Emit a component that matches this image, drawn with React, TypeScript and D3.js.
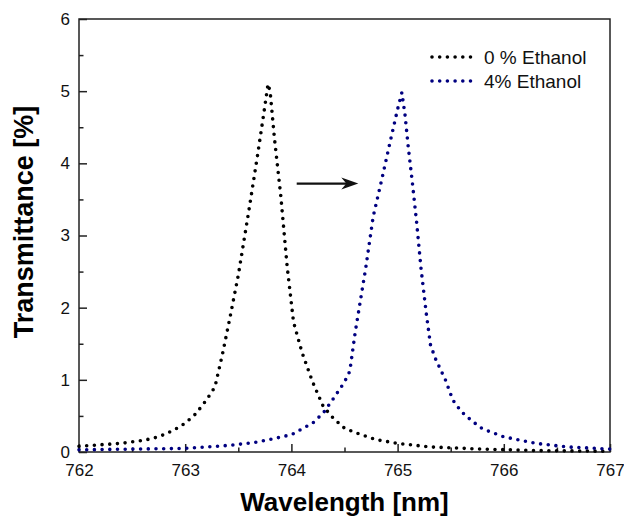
import React, { useEffect, useRef } from 'react';
import * as d3 from 'd3';

// 0 % ethanol spectrum (black)
const waveBlack = [762.0, 762.2, 762.4, 762.6, 762.7, 762.8, 762.9, 763.0, 763.1, 763.2, 763.28, 763.35, 763.42, 763.5, 763.6, 763.68, 763.74, 763.78, 763.8, 763.84, 763.9, 763.96, 764.02, 764.1, 764.2, 764.3, 764.4, 764.5, 764.6, 764.7, 764.8, 765.0, 765.3, 765.8, 766.3, 767.0];
const transBlack = [0.08, 0.1, 0.12, 0.16, 0.19, 0.24, 0.31, 0.4, 0.53, 0.72, 0.9, 1.35, 1.85, 2.45, 3.35, 4.1, 4.69, 5.1, 4.99, 4.35, 3.55, 2.57, 1.8, 1.38, 0.97, 0.63, 0.46, 0.33, 0.27, 0.22, 0.17, 0.12, 0.07, 0.04, 0.02, 0.01];

// 4 % ethanol spectrum (blue)
const waveBlue = [762.0, 762.5, 763.0, 763.4, 763.65, 763.85, 764.0, 764.1, 764.2, 764.3, 764.4, 764.5, 764.55, 764.6, 764.65, 764.7, 764.77, 764.85, 764.93, 765.0, 765.04, 765.07, 765.1, 765.14, 765.18, 765.22, 765.27, 765.31, 765.36, 765.45, 765.52, 765.6, 765.7, 765.8, 766.0, 766.3, 766.6, 767.0];
const transBlue = [0.03, 0.04, 0.05, 0.09, 0.13, 0.19, 0.24, 0.32, 0.4, 0.54, 0.75, 0.97, 1.12, 1.65, 2.1, 2.55, 3.26, 3.77, 4.3, 4.75, 4.98, 4.67, 4.23, 3.72, 3.17, 2.55, 1.92, 1.48, 1.28, 1.0, 0.72, 0.56, 0.43, 0.32, 0.21, 0.12, 0.07, 0.04];

const xTicks = [762, 763, 764, 765, 766, 767];
const xMinor = [762.5, 763.5, 764.5, 765.5, 766.5];
const yTicks = [0, 1, 2, 3, 4, 5, 6];
const yMinor = [0.5, 1.5, 2.5, 3.5, 4.5, 5.5];

const seriesNames = ['0 % Ethanol', '4% Ethanol'];
const seriesColors = ['#000000', '#000080'];

// arrow annotation (data coords)
const arrowFrom = [764.05, 3.72];
const arrowTo = [764.63, 3.72];

const width = 624, height = 517;
const margin = { left: 79, right: 14, top: 19, bottom: 65 };
const font = 'Liberation Sans, Arial, sans-serif';

export default function App() {
  const ref = useRef<SVGSVGElement>(null);

  useEffect(() => {
    const svg = d3.select(ref.current);
    svg.selectAll('*').remove();

    const x = d3.scaleLinear().domain([762, 767]).range([margin.left, width - margin.right]);
    const y = d3.scaleLinear().domain([0, 6]).range([height - margin.bottom, margin.top]);
    const bottom = height - margin.bottom;

    const styleAxis = (g) => {
      g.select('.domain').remove();
      g.selectAll('line').attr('stroke', '#222').attr('stroke-width', 1.5);
      g.selectAll('text').attr('font-family', font).attr('font-size', 17).attr('fill', '#111');
    };

    svg.append('g').attr('transform', `translate(0,${bottom})`)
      .call(d3.axisBottom(x).tickValues(xTicks).tickSize(-8).tickPadding(12).tickFormat(d3.format('d')))
      .call(styleAxis);
    svg.append('g').attr('transform', `translate(0,${bottom})`)
      .call(d3.axisBottom(x).tickValues(xMinor).tickSize(-4.5).tickFormat(() => ''))
      .call(styleAxis);
    svg.append('g').attr('transform', `translate(${margin.left},0)`)
      .call(d3.axisLeft(y).tickValues(yTicks).tickSize(-8).tickPadding(9).tickFormat(d3.format('d')))
      .call(styleAxis);
    svg.append('g').attr('transform', `translate(${margin.left},0)`)
      .call(d3.axisLeft(y).tickValues(yMinor).tickSize(-4.5).tickFormat(() => ''))
      .call(styleAxis);

    svg.append('rect')
      .attr('x', margin.left).attr('y', margin.top)
      .attr('width', width - margin.left - margin.right)
      .attr('height', bottom - margin.top)
      .attr('fill', 'none').attr('stroke', '#222').attr('stroke-width', 1.5);

    const series = [
      waveBlack.map((w, i) => [x(w), y(transBlack[i])]),
      waveBlue.map((w, i) => [x(w), y(transBlue[i])]),
    ];
    const path = d3.line();
    series.forEach((pts, i) => {
      svg.append('path')
        .attr('d', path(pts as [number, number][]))
        .attr('fill', 'none')
        .attr('stroke', seriesColors[i])
        .attr('stroke-width', 3.6)
        .attr('stroke-linecap', 'round')
        .attr('stroke-dasharray', '0 7.7');
    });

    // legend
    seriesNames.forEach((name, i) => {
      const ly = 57 + i * 24;
      svg.append('line')
        .attr('x1', 432).attr('x2', 471).attr('y1', ly).attr('y2', ly)
        .attr('stroke', seriesColors[i]).attr('stroke-width', 3.6)
        .attr('stroke-linecap', 'round').attr('stroke-dasharray', '0 7.7');
      svg.append('text')
        .attr('x', 484).attr('y', ly + 7)
        .attr('font-family', font).attr('font-size', 19).attr('fill', '#111')
        .text(name);
    });

    // arrow
    const ax1 = x(arrowFrom[0]), ax2 = x(arrowTo[0]), ay = y(arrowFrom[1]);
    svg.append('line')
      .attr('x1', ax1).attr('x2', ax2 - 10).attr('y1', ay).attr('y2', ay)
      .attr('stroke', '#111').attr('stroke-width', 2.2);
    svg.append('path')
      .attr('d', `M${ax2},${ay} L${ax2 - 17},${ay - 6} L${ax2 - 12},${ay} L${ax2 - 17},${ay + 6} Z`)
      .attr('fill', '#111');

    // axis titles
    svg.append('text')
      .attr('x', (margin.left + width - margin.right) / 2).attr('y', 511)
      .attr('text-anchor', 'middle')
      .attr('font-family', font).attr('font-size', 26).attr('font-weight', 'bold')
      .text('Wavelength [nm]');
    svg.append('text')
      .attr('transform', `translate(33,222) rotate(-90)`)
      .attr('text-anchor', 'middle')
      .attr('font-family', font).attr('font-size', 27).attr('font-weight', 'bold')
      .text('Transmittance [%]');
  }, []);

  return (
    <div style={{ position: 'absolute', left: 0, top: 0 }}>
      <svg ref={ref} width={width} height={height} style={{ display: 'block', background: '#fff' }}></svg>
    </div>
  );
}
